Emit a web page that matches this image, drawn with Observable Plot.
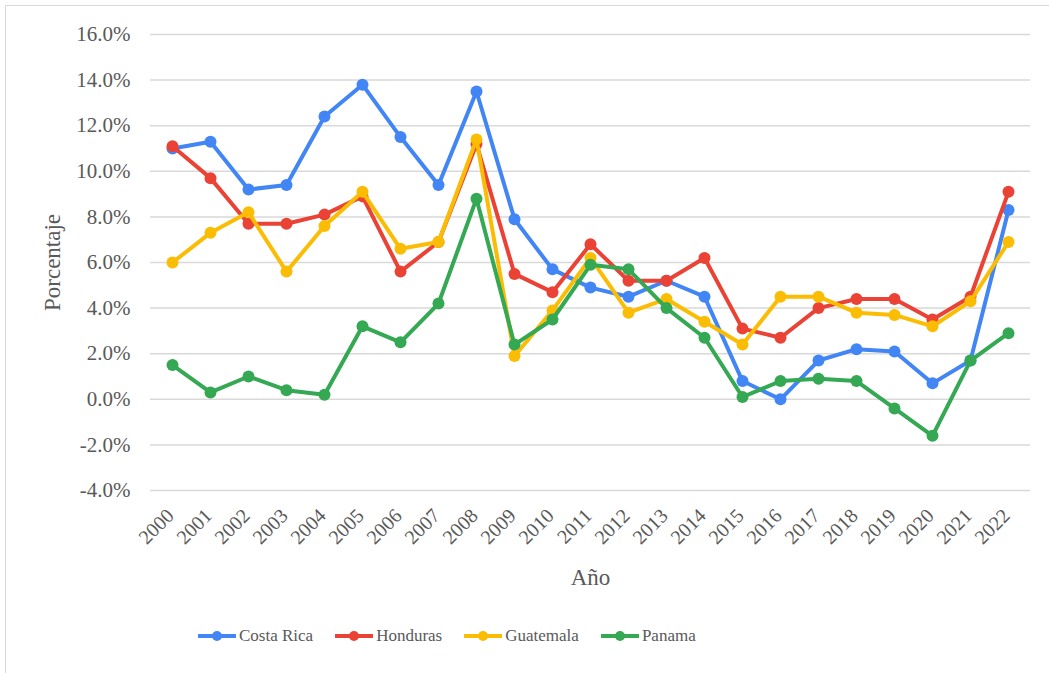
<!DOCTYPE html>
<html>
<head>
<meta charset="utf-8">
<script src="https://cdn.jsdelivr.net/npm/d3@7"></script>
<script src="https://cdn.jsdelivr.net/npm/@observablehq/plot@0.6"></script>
<style>
  body { margin: 0; background: #fff; font-family: "Liberation Serif", "DejaVu Serif", serif; }
  #wrap { position: relative; width: 1049px; height: 673px; overflow: hidden; }
  #frame { position: absolute; left: 5px; top: 5px; width: 1100px; height: 700px; border-left: 1px solid #d9d9d9; border-top: 1px solid #d9d9d9; box-sizing: border-box; }
  #chart { position: absolute; left: 0; top: 0; }
  #chart svg text { font-family: "Liberation Serif", serif; fill: #595959; }
  #chart g[aria-label="y-axis tick label"] text { font-size: 21px !important; }
  #chart g[aria-label="x-axis tick label"] text { font-size: 20px !important; }
  #chart g[aria-label="y-axis label"] text, #chart g[aria-label="x-axis label"] text { font-size: 23px !important; }
  #legend { position: absolute; left: 0; top: 626px; width: 1049px; display: flex; justify-content: flex-start; padding-left: 198px; box-sizing: border-box; font-size: 17px; color: #595959; }
  .item { display: flex; align-items: center; margin-right: 22px; }
  .item svg { margin-right: 3px; }
</style>
</head>
<body>
<div id="wrap">
  <div id="frame"></div>
  <div id="chart"></div>
  <div id="legend"></div>
</div>
<script>
const years = ["2000","2001","2002","2003","2004","2005","2006","2007","2008","2009","2010","2011","2012","2013","2014","2015","2016","2017","2018","2019","2020","2021","2022"];
const costaRica = [11.0, 11.3, 9.2, 9.4, 12.4, 13.8, 11.5, 9.4, 13.5, 7.9, 5.7, 4.9, 4.5, 5.2, 4.5, 0.8, 0.0, 1.7, 2.2, 2.1, 0.7, 1.7, 8.3];
const honduras  = [11.1, 9.7, 7.7, 7.7, 8.1, 8.9, 5.6, 6.9, 11.2, 5.5, 4.7, 6.8, 5.2, 5.2, 6.2, 3.1, 2.7, 4.0, 4.4, 4.4, 3.5, 4.5, 9.1];
const guatemala = [6.0, 7.3, 8.2, 5.6, 7.6, 9.1, 6.6, 6.9, 11.4, 1.9, 3.9, 6.2, 3.8, 4.4, 3.4, 2.4, 4.5, 4.5, 3.8, 3.7, 3.2, 4.3, 6.9];
const panama    = [1.5, 0.3, 1.0, 0.4, 0.2, 3.2, 2.5, 4.2, 8.8, 2.4, 3.5, 5.9, 5.7, 4.0, 2.7, 0.1, 0.8, 0.9, 0.8, -0.4, -1.6, 1.7, 2.9];
const seriesNames = ["Costa Rica", "Honduras", "Guatemala", "Panama"];
const seriesColors = ["#4285F4", "#EA4335", "#FBBC04", "#34A853"];
const yTicks = [-4, -2, 0, 2, 4, 6, 8, 10, 12, 14, 16];

const seriesValues = [costaRica, honduras, guatemala, panama];
const data = [];
seriesNames.forEach((name, i) => {
  years.forEach((yr, j) => data.push({ series: name, year: yr, value: seriesValues[i][j] }));
});

const chart = Plot.plot({
  width: 1049,
  height: 600,
  marginTop: 34,
  marginBottom: 110,
  marginLeft: 150,
  marginRight: 19,
  style: { fontFamily: "Liberation Serif, serif", fontSize: "18px", color: "#595959", background: "transparent" },
  x: { type: "point", domain: years, padding: 0.5 },
  y: { domain: [-4, 16] },
  color: { domain: seriesNames, range: seriesColors },
  marks: [
    Plot.gridY(yTicks, { stroke: "#d9d9d9", strokeOpacity: 1, strokeWidth: 1.5 }),
    Plot.axisY(yTicks, { tickSize: 0, tickPadding: 20, tickFormat: d => d.toFixed(1) + "%", label: "Porcentaje", labelAnchor: "center", labelArrow: "none", labelOffset: 107 }),
    Plot.axisX({ tickSize: 0, tickPadding: 22, dx: -2, tickRotate: -45, label: "Año", labelAnchor: "center", labelArrow: "none", labelOffset: 94 }),
    ...seriesNames.flatMap(name => [
      Plot.line(data.filter(d => d.series === name), { x: "year", y: "value", stroke: "series", strokeWidth: 4 }),
      Plot.dot(data.filter(d => d.series === name), { x: "year", y: "value", fill: "series", r: 6 })
    ])
  ]
});

document.getElementById("chart").appendChild(chart);

const legend = document.getElementById("legend");
seriesNames.forEach((name, i) => {
  const item = document.createElement("div");
  item.className = "item";
  item.innerHTML = `<svg width="38" height="14"><line x1="1" y1="7" x2="37" y2="7" stroke="${seriesColors[i]}" stroke-width="4" stroke-linecap="round"/><circle cx="19" cy="7" r="5" fill="${seriesColors[i]}"/></svg><span>${name}</span>`;
  legend.appendChild(item);
});
</script>
</body>
</html>
